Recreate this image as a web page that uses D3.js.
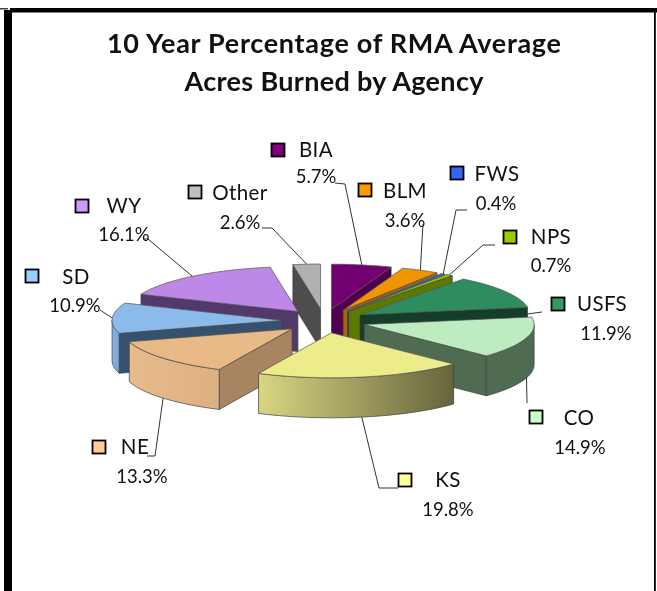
<!DOCTYPE html>
<html><head><meta charset="utf-8">
<script src="https://cdnjs.cloudflare.com/ajax/libs/d3/7.8.5/d3.min.js"></script>
<style>html,body{margin:0;padding:0;background:#fff}svg{display:block;filter:blur(0.45px)}
text{font-family:"Comic Sans MS","Lato","Open Sans",sans-serif;fill:#111}</style>
</head><body><div id="c"></div>
<script>
const titleLines = ["10 Year Percentage of RMA Average", "Acres Burned by Agency"];
const agencies = ["BIA","BLM","FWS","NPS","USFS","CO","KS","NE","SD","WY","Other"];
const percents = [5.7,3.6,0.4,0.7,11.9,14.9,19.8,13.3,10.9,16.1,2.6];
const topColors = ["#720070","#f09400","#3366ee","#8fbd00","#2e8c5e","#bcecc0","#ecec8a","#e9b988","#8abbeb","#bd88e8","#b0b0b0"];
const swatchColors = ["#800080","#ff9900","#3366ff","#99cc00","#339966","#ccffcc","#ffff99","#ffcc99","#99ccff","#cc99ff","#c0c0c0"];
const faceColors = ["#4f004e","#a86700","#233f9e","#5c7a00","#143d2a","#4f6b52","#66643c","#a88560","#36516e","#52396b","#4d4d4d"];
const wallLeft = ["#720070","#c47800","#3366ee","#6e8f00","#2e8c5e","#4f6b52","#d8d682","#e8bb8c","#84b0e4","#bd88e8","#b0b0b0"];
const wallRight = ["#4f004e","#a86700","#233f9e","#5c7a00","#143d2a","#4f6b52","#66643c","#dcb080","#7aa7dd","#52396b","#4d4d4d"];
const drawOrder = ["Other","WY","BIA","BLM","FWS","NPS","USFS","SD","CO","NE","KS"];

// Layout
const W=657,H=591,cx=324,cy=321,rx=170,ry=45,ex=42,ey=12,depth=40;
const labelLayout = {
 BIA:{sw:[278,150],name:[316,150],pct:[316,176],elbow:[[345,184],[335,183]]},
 BLM:{sw:[365,190],name:[405,191],pct:[405,220],elbow:[[423,224]]},
 FWS:{sw:[457,173],name:[497,174],pct:[496,203],elbow:[[456,210],[467,210]]},
 NPS:{sw:[510,237],name:[551,237],pct:[551,265],elbow:[[483,245],[495,245]]},
 USFS:{sw:[558,304],name:[602,304],pct:[606,333],elbow:[[542,312]],at:80,dz:7},
 CO:{sw:[536,417],name:[579,418],pct:[580,447],elbow:[[527,403]],dz:depth},
 KS:{sw:[405,480],name:[448,480],pct:[448,509],elbow:[[379,488],[398,488]],dz:depth},
 NE:{sw:[99,447],name:[135,447],pct:[142,476],elbow:[[155,456],[147,456]],dz:depth},
 SD:{sw:[32,276],name:[76,277],pct:[75,305],elbow:[[100,310]]},
 WY:{sw:[82,206],name:[124,206],pct:[124,234],elbow:[[148,239],[143,239]]},
 Other:{sw:[195,192],name:[240,193],pct:[240,222],elbow:[[272,228],[262,228]]}
};

const svg=d3.select("#c").append("svg").attr("width",W).attr("height",H);
const defs=svg.append("defs");
svg.append("rect").attr("width",W).attr("height",H).attr("fill","#fff");

// Frame
svg.append("rect").attr("x",4).attr("y",10).attr("width",8).attr("height",H).attr("fill","#000");
svg.append("rect").attr("x",10).attr("y",8).attr("width",647).attr("height",4.5).attr("fill","#000");
svg.append("rect").attr("x",0).attr("y",8).attr("width",8).attr("height",1.5).attr("fill","#444");
svg.append("rect").attr("x",654).attr("y",8).attr("width",1.8).attr("height",H).attr("fill","#000");

svg.selectAll("text.title").data(titleLines).join("text").attr("class","title")
 .attr("x",334).attr("y",(d,i)=>53+i*38).attr("text-anchor","middle")
 .attr("font-size",27).attr("font-weight",700)
 .attr("textLength",(d,i)=>i?299:454).attr("lengthAdjust","spacing").text(d=>d);

const sx=d3.scaleLinear().domain([-1,1]).range([-rx,rx]);
const sy=d3.scaleLinear().domain([-1,1]).range([-ry,ry]);
const ox=d3.scaleLinear().domain([-1,1]).range([-ex,ex]);
const oy=d3.scaleLinear().domain([-1,1]).range([-ey,ey]);

const arcs=d3.pie().sort(null).startAngle(0).endAngle(2*Math.PI).value(d=>d)(percents);
const slices=agencies.map((name,i)=>{
  const a=arcs[i],mid=(a.startAngle+a.endAngle)/2;
  return {name,i,a0:a.startAngle,a1:a.endAngle,mid,
    ax:cx+ox(Math.sin(mid)),ay:cy+oy(-Math.cos(mid))};
});
const pt=(s,t,dz=0)=>[s.ax+sx(Math.sin(t)),s.ay+sy(-Math.cos(t))+dz];
const arcPts=(s,t0,t1,dz=0)=>{
  const n=Math.max(2,Math.ceil((t1-t0)/0.03));
  return d3.range(n+1).map(k=>pt(s,t0+(t1-t0)*k/n,dz));
};
const line=d3.line();
const stroke="#3c3c3c";

const g=svg.append("g");
drawOrder.forEach(nm=>{
  const s=slices.find(d=>d.name===nm),i=s.i;
  const sg=g.append("g");
  const apex=[s.ax,s.ay],apexB=[s.ax,s.ay+depth];
  if(Math.sin(s.a0)<-1e-6){
    sg.append("path").attr("d",line([apex,pt(s,s.a0),pt(s,s.a0,depth),apexB])+"Z")
      .attr("fill",faceColors[i]).attr("stroke",stroke).attr("stroke-width",.7);
  }
  if(Math.sin(s.a1)>1e-6){
    sg.append("path").attr("d",line([apex,pt(s,s.a1),pt(s,s.a1,depth),apexB])+"Z")
      .attr("fill",faceColors[i]).attr("stroke",stroke).attr("stroke-width",.7);
  }
  const w0=Math.max(s.a0,Math.PI/2),w1=Math.min(s.a1,3*Math.PI/2);
  if(w1>w0){
    const id="wall"+i;
    const gr=defs.append("linearGradient").attr("id",id);
    gr.append("stop").attr("offset",0).attr("stop-color",wallLeft[i]);
    gr.append("stop").attr("offset",1).attr("stop-color",wallRight[i]);
    const top=arcPts(s,w0,w1),bot=arcPts(s,w0,w1,depth).reverse();
    sg.append("path").attr("d",line(top.concat(bot))+"Z")
      .attr("fill",`url(#${id})`).attr("stroke",stroke).attr("stroke-width",.7);
  }
  sg.append("path").attr("d",line([apex].concat(arcPts(s,s.a0,s.a1)))+"Z")
    .attr("fill",topColors[i]).attr("stroke","#555").attr("stroke-width",.7).attr("stroke-linejoin","round");
});

// Leaders
const leaders=svg.append("g").attr("fill","none").attr("stroke","#333").attr("stroke-width",1);
slices.forEach(s=>{
  const L=labelLayout[s.name];
  const t=L.at!==undefined?L.at*Math.PI/180:s.mid;
  leaders.append("path").attr("d",line([pt(s,t,L.dz||0)].concat(L.elbow)));
});

// Labels
const lab=svg.append("g");
slices.forEach(s=>{
  const L=labelLayout[s.name];
  lab.append("rect").attr("x",L.sw[0]-6.5).attr("y",L.sw[1]-6.5).attr("width",13).attr("height",13)
    .attr("fill",swatchColors[s.i]).attr("stroke","#000").attr("stroke-width",1.8);
  lab.append("text").attr("x",L.name[0]).attr("y",L.name[1]+7).attr("text-anchor","middle")
    .attr("font-size",20.5).attr("letter-spacing",0.4).text(s.name);
  lab.append("text").attr("x",L.pct[0]).attr("y",L.pct[1]+6.5).attr("text-anchor","middle")
    .attr("font-size",18.5).text(percents[s.i].toFixed(1)+"%");
});
</script></body></html>
